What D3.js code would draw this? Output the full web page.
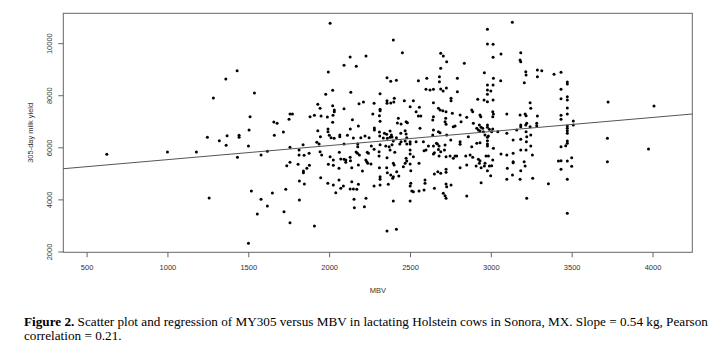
<!DOCTYPE html>
<html><head><meta charset="utf-8">
<script src="https://cdn.jsdelivr.net/npm/d3@7"></script>
<style>
html,body{margin:0;padding:0;background:#fff;}
svg{display:block;}
</style></head>
<body>
<svg id="chart" width="723" height="355"></svg>
<script>
// ---- data ----
const xTicks = [500, 1000, 1500, 2000, 2500, 3000, 3500, 4000];
const yTicks = [2000, 4000, 6000, 8000, 10000];
const xTitle = "MBV";
const yTitle = "305-day milk yield";
const regIntercept = 4986;   // kg
const regSlope = 0.54;       // kg per unit MBV
const mbv = [
1431,1361,1538,1284,1511,1505,1658,1678,1247,1369,1443,1443,1661,
1321,1363,625,1000,1179,1433,1501,1579,1618,1258,1519,1579,1649,1618,1556,1501,
2006,2397,2453,2130,2228,2092,2168,1995,2358,2381,2416,2022,1979,2134,2315,2403,2465,2358,2358,2381,2400,2212,2185,2278,1930,2022,1944,2032,2032,2092,2315,2315,2144,2024,1758,1773,1752,1882,1909,1950,1989,2022,2270,2311,2315,2428,2422,2445,2476,2484,1717,2181,2131,1930,1993,1993,2066,2066,2001,2012,2031,1946,2113,2150,2196,2222,2247,2280,2280,2311,2313,2342,2356,2377,2385,2335,2360,2377,2389,2416,2443,2470,2476,2480,
1924,1758,1839,1938,2092,2177,2177,2261,2315,2350,2389,2397,2437,2445,2470,2480,1814,1814,1845,1876,1944,1954,2006,2063,2026,2072,2092,2103,2103,2130,2132,2167,2175,2187,2236,2243,2227,2233,2239,2181,2206,2259,2278,2309,2309,2358,2371,2377,2406,2397,2402,2476,2480,2470,1758,1738,1808,1841,1841,1862,1878,1995,2026,2061,2140,2311,2356,2360,2381,2397,2393,2418,2431,2315,2315,1948,1816,1847,1992,2026,2061,2072,2088,2041,2140,2130,2150,2171,2181,2278,2315,2366,1732,1816,1721,1758,1909,2154,2156,2218,2228,2397,2358,2416,
3133,2979,2979,3014,2690,2706,2727,3014,3063,3185,3181,3185,2836,2690,3216,3218,3288,3288,2960,2552,2604,2682,2682,2793,2979,3016,3014,3061,3207,2599,2624,2645,2690,2705,2725,2793,2979,3000,2979,2754,2754,2919,2958,2979,3014,2645,2521,2501,2538,2558,2552,2567,2676,2686,2703,2723,2645,2762,2721,2717,2723,2810,2851,2882,2888,2933,2938,3012,3016,3012,3099,3181,3212,3218,3247,3288,2562,2641,2645,2641,2676,2686,2727,2768,2779,2816,2861,2892,2929,2940,2913,2950,2923,2933,2954,2979,2979,2991,2964,2985,3005,3012,3043,3099,3160,3185,3185,3216,3222,3284,3284,3218,3243,
3138,3185,3222,3220,3247,3247,3218,3206,3212,3257,3222,3185,3181,3138,3138,3138,3134,3185,3099,3102,3099,3063,3016,3012,3005,2999,2979,2979,2979,2979,2991,2979,2964,2960,2970,2985,2913,2933,2882,2888,2923,2933,2929,2909,2940,2940,2851,2845,2872,2851,2810,2810,2810,2779,2789,2768,2752,2748,2723,2723,2723,2723,2727,2706,2717,2723,2754,2670,2680,2676,2690,2664,2713,2717,2680,2645,2645,2651,2651,2672,2690,2651,2614,2599,2587,2583,2593,2593,2587,2556,2556,2538,2501,2501,2521,2501,2501,2501,2505,2505,2501,2511,2521,2501,2459,
3243,3259,3315,3391,3434,3473,3473,3434,3473,3473,3434,3473,3434,3434,3473,3510,3510,3473,3473,3473,3473,3473,3473,3463,3434,3418,3434,3473,3500,3500,3434,3473,3356,3473,3725,3721,3721,4009,3975
];
const milkYield = [
8941,8623,8085,7893,7175,6664,6972,6922,6384,6445,6461,6384,6461,
6253,6077,5731,5819,5819,5616,6050,5704,5846,4053,4322,4003,4245,3746,3439,2314,
10762,10120,9633,9467,9506,9149,9110,8892,8673,8534,8573,8189,8035,8112,8058,7882,7789,7789,7690,7701,7740,7740,7674,7690,7651,7597,7498,7432,7367,7482,7459,7405,7060,7229,7279,7279,7075,7175,7229,7202,7163,6960,7279,7213,6998,7114,6933,6895,6983,6945,6588,6818,6703,6637,6703,6599,6472,6407,6461,6369,6346,6407,6461,6357,6369,6434,6369,6741,6664,6588,6434,6538,6499,6626,6472,6357,6346,6384,6396,6369,6538,6637,6511,6369,
6192,6000,6100,6127,6127,6127,6023,6050,6100,6050,6100,6242,6127,6215,6242,6127,5896,5704,5693,5770,5831,5704,5639,5808,5512,5551,5539,5512,5424,5616,5485,5819,5770,5704,5808,5770,5512,5447,5386,5320,5090,5359,5923,5831,5666,5601,6023,5896,5808,5386,5320,5578,5474,5386,5424,5293,5347,5090,5025,5194,5309,5347,5309,5194,5217,5217,5217,5025,4936,4871,4810,5063,4898,4871,4771,4833,4706,4591,4617,4552,4744,4426,4514,4257,4679,4399,4399,4387,4579,4514,4552,4579,4387,3976,3527,3105,2978,4003,3681,3719,4042,3937,2786,2851,
10800,10531,9967,9955,9610,9506,9287,9456,9583,9633,9352,9287,9226,9034,8903,8776,8968,8711,8865,8557,8650,8711,8519,8650,8392,8650,8392,8557,8481,8227,8200,8227,8239,8162,8277,8135,8200,8162,8035,7882,7789,7843,7816,7751,7816,7713,7789,7559,7367,7536,7202,7202,7498,7432,7405,7367,7175,7306,7114,6983,6883,7240,7152,7432,7367,7240,7175,7367,7279,7175,7279,7240,7279,7213,7498,7202,6730,7048,6664,6472,6599,6561,6472,6791,6818,6983,6407,6922,6856,6768,6730,6730,6664,6626,6599,6856,6768,6691,6472,6434,6599,6703,6599,6538,6664,6856,6791,6856,6922,6922,6829,6599,6791,
6280,6307,6407,6215,6050,6472,5896,5447,5282,5704,4042,5101,4771,5770,5447,5409,4936,5896,5704,5194,4771,5743,5961,5512,5293,4910,6384,6253,6127,6050,5282,5101,5386,5282,5666,5666,6154,6177,6023,5616,5539,5485,5386,5282,5217,4641,4130,5666,5704,5320,6115,6215,5217,5666,5666,5578,6280,5666,5639,5155,5040,4591,4487,4234,4141,4042,4552,6127,6050,5920,5831,6154,5896,6088,5666,6050,5743,5793,4975,5063,5001,4426,6050,5896,5869,6215,4744,4617,4360,5386,4322,6215,6215,6127,5639,5896,5743,5359,5101,4617,4514,4322,4295,3937,5255,
7713,4810,8941,8803,8880,8507,8431,8227,7943,7816,7866,7509,7229,7075,7279,7010,6856,6818,6730,6637,6538,6242,6154,6061,6023,5474,5485,5474,5601,5270,5155,4771,4602,3466,7740,6346,5447,7586,5935
];
const caption1Bold = "Figure 2.";
const caption1Rest = " Scatter plot and regression of MY305 versus MBV in lactating Holstein cows in Sonora, MX. Slope = 0.54 kg, Pearson";
const caption2 = "correlation = 0.21.";

// ---- layout ----
const svg = d3.select("#chart");
const box = {left: 63.3, right: 692.3, top: 13.3, bottom: 252.3};
const x = d3.scaleLinear().domain([356, 4246]).range([box.left, box.right]);
const y = d3.scaleLinear().domain([1968, 11146]).range([box.bottom, box.top]);
const axisColor = "#666";
const labelColor = "#333";
const sans = "'Liberation Sans', Arial, sans-serif";

// x axis
const gx = svg.append("g").attr("transform", `translate(0,${box.bottom})`)
  .call(d3.axisBottom(x).tickValues(xTicks).tickSize(5).tickSizeOuter(0).tickPadding(7.7).tickFormat(d3.format("d")));
gx.select(".domain").remove();
gx.selectAll("line").attr("stroke", axisColor);
gx.selectAll("text").attr("fill", labelColor).style("font-family", sans).style("font-size", "7.5px").attr("dy", "0.71em");

// y axis
const gy = svg.append("g").attr("transform", `translate(${box.left},0)`)
  .call(d3.axisLeft(y).tickValues(yTicks).tickSize(5).tickSizeOuter(0).tickFormat(d3.format("d")));
gy.select(".domain").remove();
gy.selectAll("line").attr("stroke", axisColor);
gy.selectAll("text").attr("fill", labelColor).style("font-family", sans).style("font-size", "7.5px")
  .attr("x", 0).attr("dy", 0).attr("text-anchor", "middle")
  .attr("transform", "translate(-11,0) rotate(-90)");

// box
svg.append("rect").attr("x", box.left).attr("y", box.top)
  .attr("width", box.right - box.left).attr("height", box.bottom - box.top)
  .attr("fill", "none").attr("stroke", axisColor).attr("stroke-width", 1);

// points
const pts = mbv.map((v, i) => ({x: v, y: milkYield[i]}));
svg.append("g").selectAll("circle").data(pts).join("circle")
  .attr("cx", d => x(d.x)).attr("cy", d => y(d.y)).attr("r", 1.5).attr("fill", "#000");

// regression line
const xd = x.domain();
svg.append("line")
  .attr("x1", x(xd[0])).attr("y1", y(regIntercept + regSlope * xd[0]))
  .attr("x2", x(xd[1])).attr("y2", y(regIntercept + regSlope * xd[1]))
  .attr("stroke", "#555").attr("stroke-width", 1);

// axis titles
svg.append("text").attr("x", (box.left + box.right) / 2).attr("y", 293)
  .attr("text-anchor", "middle").attr("fill", labelColor)
  .style("font-family", sans).style("font-size", "7.5px").text(xTitle);
svg.append("text").attr("transform", `translate(33,${(box.top + box.bottom) / 2}) rotate(-90)`)
  .attr("text-anchor", "middle").attr("fill", labelColor)
  .style("font-family", sans).style("font-size", "7.5px").text(yTitle);

// caption
const serif = "'Liberation Serif', 'Times New Roman', serif";
const c1 = svg.append("text").attr("x", 24).attr("y", 325.7)
  .style("font-family", serif).style("font-size", "13.2px").attr("fill", "#000");
c1.append("tspan").style("font-weight", "bold").text(caption1Bold);
c1.append("tspan").text(caption1Rest);
svg.append("text").attr("x", 24).attr("y", 340)
  .style("font-family", serif).style("font-size", "13.2px").attr("fill", "#000").text(caption2);
</script>
</body></html>
